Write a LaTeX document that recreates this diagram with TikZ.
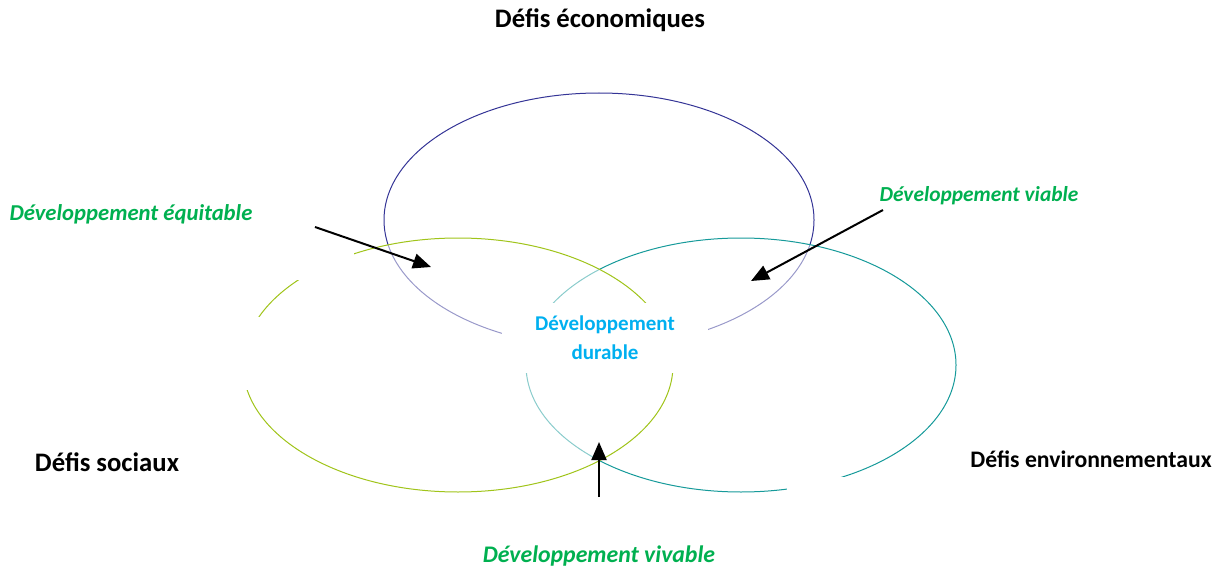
\documentclass[tikz,border=0pt]{standalone}
\usepackage{fontspec}
\setmainfont{Carlito}
\usetikzlibrary{arrows.meta,shapes.geometric}

\colorlet{defi_eco}{rgb,255:red,52;green,52;blue,150}
\colorlet{defi_soc}{rgb,255:red,160;green,196;blue,26}
\colorlet{defi_env}{rgb,255:red,22;green,154;blue,154}
\colorlet{dev_green}{rgb,255:red,0;green,176;blue,80}
\colorlet{dev_cyan}{rgb,255:red,0;green,176;blue,240}

\tikzset{
  defi/.style={ellipse, draw=#1, line width=1pt,
    minimum width=430pt, minimum height=254pt, inner sep=0pt},
  veil/.style={fill=white, fill opacity=0.5},
  devlabel/.style={text=dev_green, font=\fontsize{#1}{26}\selectfont\bfseries\itshape},
  defilabel/.style={text=black, font=\fontsize{26.7}{32}\selectfont\bfseries},
  pointer/.style={line width=2pt, -{Triangle[length=18pt,width=15pt]}}
}

\begin{document}
\begin{tikzpicture}[x=1pt, y=-1pt]
    \useasboundingbox (0,0) rectangle (1222,572);

    % the three circles of challenges
    \node[defi=defi_eco] (eco) at (599,220) {};
    \node[defi=defi_env, veil] (env) at (741,365) {};
    \node[defi=defi_soc, veil] (soc) at (458,365) {};

    % blank patches over the circles
    \fill[white] (290,245) rectangle (354,280);
    \fill[white] (235,317) rectangle (275,390);
    \fill[white] (787,477) rectangle (850,500);

    \node[rectangle, fill=white, text=dev_cyan, align=center,
      minimum width=206pt, minimum height=70pt, inner sep=0pt,
      font=\fontsize{21}{29}\selectfont\bfseries]
      (durable) at (605,338) {Développement\\durable};

    \node[defilabel] (teco) at (600,20) {Défis économiques};
    \node[defilabel] (tsoc) at (107,462) {Défis sociaux};
    \node[defilabel, font=\fontsize{23.7}{28}\selectfont\bfseries]
      (tenv) at (1091,459) {Défis environnementaux};

    \node[devlabel=22.7] (equit) at (131,214) {Développement équitable};
    \node[devlabel=21.4] (viab) at (979,196) {Développement viable};
    \node[devlabel=23.8] (vivab) at (599,556) {Développement vivable};

    % arrows towards the overlaps
    \coordinate (equit_from) at (315,227);
    \coordinate (equit_to) at (431,267);
    \coordinate (viab_from) at (883,210);
    \coordinate (viab_to) at (751,281);
    \coordinate (vivab_from) at (599,497);
    \coordinate (vivab_to) at (599,442);
    \draw[pointer] (equit_from) -- (equit_to);
    \draw[pointer] (viab_from) -- (viab_to);
    \draw[pointer] (vivab_from) -- (vivab_to);
  \end{tikzpicture}
\end{document}
